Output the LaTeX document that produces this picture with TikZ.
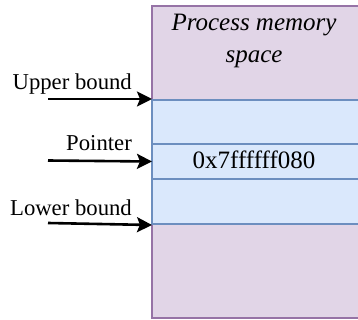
\documentclass[tikz,border=0pt]{standalone}
\usepackage{fontspec}
\setmainfont{Liberation Serif}
\usetikzlibrary{arrows.meta}
\definecolor{pfill}{HTML}{E1D5E7}
\definecolor{pdraw}{HTML}{9673A6}
\definecolor{bfill}{HTML}{DAE8FC}
\definecolor{bdraw}{HTML}{6C8EBF}
\tikzset{
  rowbox/.style={draw=bdraw, fill=bfill, anchor=north west, inner sep=0pt, line width=2pt, minimum width=215pt},
  lbl/.style={font=\fontsize{22.7}{27}\selectfont, inner sep=0pt, anchor=base east},
  ptr/.style={-{Stealth[length=15pt,width=15pt,inset=3pt]}, line width=2.6pt, black, shorten >=-1pt}
}
\begin{document}
\begin{tikzpicture}[x=1pt,y=-1pt]
\useasboundingbox (0,0) rectangle (358,320);
\begin{scope}
\clip (0,0) rectangle (358,320);
\node[draw=pdraw, fill=pfill, anchor=north west, inner sep=0pt, line width=2pt, minimum width=215pt, minimum height=312pt] (mem) at (151,5) {};
\node[rowbox, minimum height=44pt] (r1) at (151,99) {};
\node[rowbox, minimum height=35pt] (r2) at (151,143) {};
\node[rowbox, minimum height=45pt] (r3) at (151,178) {};
\end{scope}
\node[inner sep=0pt, align=center, font=\fontsize{25}{32}\selectfont\itshape] (title) at (254,40.5) {Process memory\\space};
\node[inner sep=0pt, anchor=base, font=\fontsize{25}{30}\selectfont] (addr) at (254,169) {0x7ffffff080};
\node[lbl] (ub) at (132,90) {Upper bound};
\node[lbl] (pt) at (132,150.5) {Pointer};
\node[lbl] (lb) at (132,215) {Lower bound};
\coordinate (ubs) at (48,99);
\coordinate (pts) at (48,160.5);
\coordinate (lbs) at (48,223);
\draw[ptr] (ubs) -- (r1.north west);
\draw[ptr] (pts) -- (r2.west);
\draw[ptr] (lbs) -- (r3.south west);
\end{tikzpicture}
\end{document}
